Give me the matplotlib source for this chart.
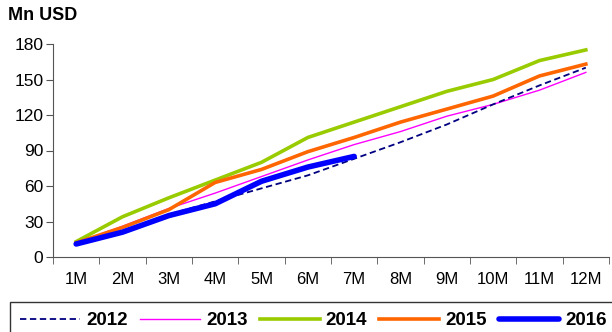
import matplotlib.pyplot as plt
import numpy as np

plt.rcParams['font.family'] = ['Liberation Sans', 'DejaVu Sans']

months = ['1M', '2M', '3M', '4M', '5M', '6M', '7M', '8M', '9M', '10M', '11M', '12M']
v2012 = [10, 22, 36, 47, 58, 69, 83, 97, 112, 129, 145, 160]
v2013 = [12, 26, 41, 54, 68, 82, 95, 106, 119, 129, 141, 156]
v2014 = [13, 34, 50, 65, 80, 101, 114, 127, 140, 150, 166, 175]
v2015 = [12, 25, 40, 63, 74, 89, 101, 114, 125, 136, 153, 163]
v2016 = [11, 21, 35, 45, 64, 76, 85]

fig = plt.figure(figsize=(6.12, 3.32), dpi=100)
ax = fig.add_axes([53 / 612, 1 - 257 / 332, (609 - 53) / 612, (257 - 44) / 332])

x = np.arange(len(months))
ax.plot(x, v2012, color='#000080', lw=1.3, ls=(0, (3.5, 2)), label='2012', zorder=3)
ax.plot(x, v2013, color='#FF00FF', lw=1.0, label='2013', zorder=2)
ax.plot(x, v2014, color='#99CC00', lw=2.6, label='2014', zorder=2)
ax.plot(x, v2015, color='#FF6600', lw=2.6, label='2015', zorder=2)
ax.plot(np.arange(len(v2016)), v2016, color='#0000FF', lw=4, label='2016',
        solid_capstyle='round', zorder=4)

ax.set_xlim(-0.5, 11.5)
ax.set_ylim(0, 180)
ax.set_yticks(range(0, 181, 30))
ax.set_xticks(x)
ax.set_xticklabels(months)
ax.set_xticks(np.arange(-0.5, 12, 1), minor=True)
ax.tick_params(axis='x', which='major', length=0, pad=11, labelsize=12)
ax.tick_params(axis='x', which='minor', length=5, color='#555555', direction='out')
ax.tick_params(axis='y', length=5, color='#555555', direction='out', labelsize=12.5, pad=2)

for side in ['top', 'right']:
    ax.spines[side].set_visible(False)
for side in ['left', 'bottom']:
    ax.spines[side].set_color('#555555')

fig.text(8 / 612, 1 - 16 / 332, 'Mn USD', fontsize=13, fontweight='bold', va='center', ha='left')

leg = fig.legend(loc='upper left', bbox_to_anchor=(10 / 612, 1 - 302 / 332), ncol=5,
                 borderaxespad=0, frameon=True, fancybox=False, edgecolor='black',
                 handlelength=3.2, columnspacing=0.65, handletextpad=0.32, borderpad=0.55,
                 prop={'weight': 'bold', 'size': 13.5})
leg.get_frame().set_linewidth(1.0)

fig.savefig('out.png', dpi=100)
